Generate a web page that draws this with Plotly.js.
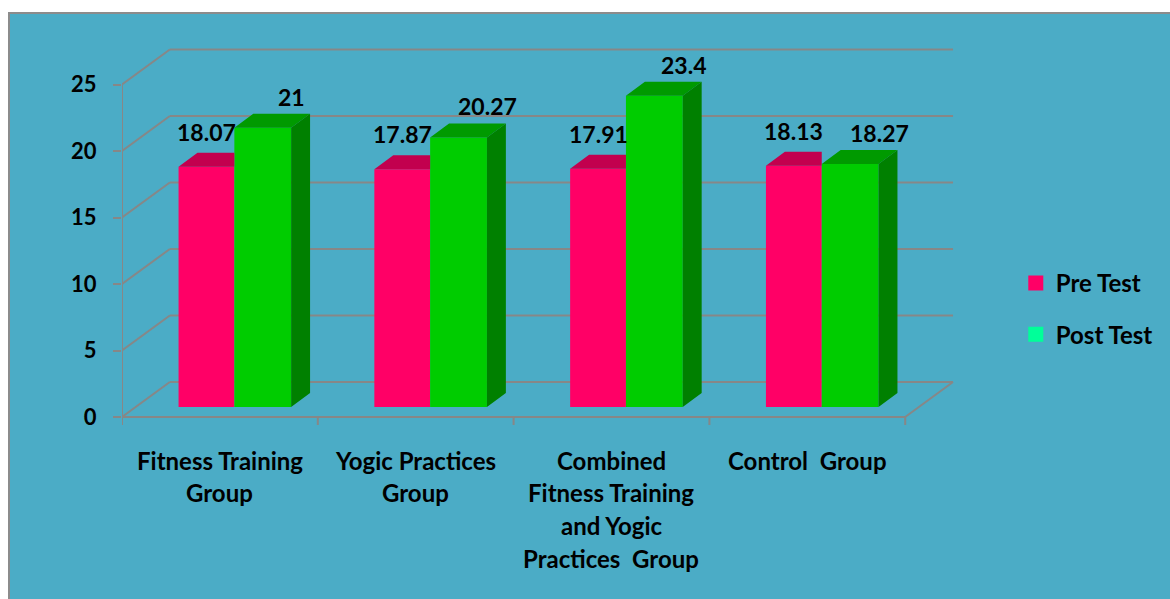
<!DOCTYPE html>
<html>
<head>
<meta charset="utf-8">
<script src="https://cdn.plot.ly/plotly-3.0.1.min.js"></script>
<style>
  html, body { margin: 0; padding: 0; background: #ffffff; width: 1170px; height: 599px; overflow: hidden; }
  #frame { position: absolute; left: 8px; top: 12px; width: 1162px; height: 587px; background: #8c8c8c; }
  #chart { position: absolute; left: 2px; top: 2px; width: 1160px; height: 585px; }
</style>
</head>
<body>
<div id="frame"><div id="chart"></div></div>
<script>
// ---- data ----
const categories = [
  "Fitness Training<br>Group",
  "Yogic Practices<br>Group",
  "Combined<br>Fitness Training<br>and Yogic<br>Practices\u00a0 Group",
  "Control\u00a0 Group"
];
const preTest = [18.07, 17.87, 17.91, 18.13];
const postTest = [21, 20.27, 23.4, 18.27];
const seriesNames = ["Pre Test", "Post Test"];
const yTickValues = [0, 5, 10, 15, 20, 25];

// ---- styling / geometry (pixels converted to axis units) ----
const PXX = 196.5, PXY = 13.3;           // px per x unit, px per y unit
const DXB = 48 / PXX, DYB = 35 / PXY;     // back wall offset
const SX = 14.5 / PXX, SY = 10 / PXY;     // bar placement depth
const BW1 = 56 / PXX, BW2 = 57 / PXX;     // bar widths
const DDX = 19 / PXX, DDY = 14 / PXY;     // bar depth
const GRID = '#878787';
const FAMILY = 'Lato, "Open Sans", sans-serif';
const FONT = { family: FAMILY, size: 22, color: '#000000', weight: 'bold' };
const FONT_VAL = { family: FAMILY, size: 23, color: '#000000', weight: 'bold' };
const FONT_CAT = { family: FAMILY, size: 24, color: '#000000', weight: 'bold' };
const nCat = categories.length;
const yMax = yTickValues[yTickValues.length - 1];

const xc = categories.map((c, i) => i + 0.5 + SX);

// top / side faces
const preTopX = [], preTopY = [], postTopX = [], postTopY = [], postSideX = [], postSideY = [];
categories.forEach((c, i) => {
  const xr = xc[i], xl = xr - BW1, xr2 = xr + BW2;
  const t = SY + preTest[i], T = SY + postTest[i];
  preTopX.push(xl, xr, xr, xl + DDX, xl, null);
  preTopY.push(t, t, t + DDY, t + DDY, t, null);
  postTopX.push(xr, xr2, xr2 + DDX, xr + DDX, xr, null);
  postTopY.push(T, T, T + DDY, T + DDY, T, null);
  postSideX.push(xr2, xr2, xr2 + DDX, xr2 + DDX, xr2, null);
  postSideY.push(SY, T, T + DDY, SY + DDY, SY, null);
});

const traces = [
  { type: 'bar', x: xc, y: preTest, base: SY, offset: -BW1, width: BW1,
    marker: { color: '#FF0066', line: { width: 0 } }, showlegend: false, hoverinfo: 'skip' },
  { type: 'bar', x: xc, y: postTest, base: SY, offset: 0, width: BW2,
    marker: { color: '#00CC00', line: { width: 0 } }, showlegend: false, hoverinfo: 'skip' },
  { type: 'scatter', mode: 'lines', x: preTopX, y: preTopY, fill: 'toself', fillcolor: '#C2004E',
    line: { width: 0, color: 'rgba(0,0,0,0)' }, showlegend: false, hoverinfo: 'skip' },
  { type: 'scatter', mode: 'lines', x: postTopX, y: postTopY, fill: 'toself', fillcolor: '#009A00',
    line: { width: 0, color: 'rgba(0,0,0,0)' }, showlegend: false, hoverinfo: 'skip' },
  { type: 'scatter', mode: 'lines', x: postSideX, y: postSideY, fill: 'toself', fillcolor: '#008000',
    line: { width: 0, color: 'rgba(0,0,0,0)' }, showlegend: false, hoverinfo: 'skip' },
  { type: 'scatter', mode: 'markers', x: [null], y: [null], name: seriesNames[0], legendgroup: 'a',
    marker: { symbol: 'square', size: 15, color: '#FF0066' } },
  { type: 'scatter', mode: 'markers', x: [null], y: [null], name: seriesNames[1], legendgroup: 'b',
    marker: { symbol: 'square', size: 15, color: '#00FF99' } }
];

// walls / floor lines
const shapes = [];
const ln = (x0, y0, x1, y1) => shapes.push({ type: 'line', xref: 'x', yref: 'y', x0, y0, x1, y1,
  layer: 'below', line: { color: GRID, width: 2 } });
yTickValues.forEach(v => {
  ln(DXB, v + DYB, nCat + DXB, v + DYB);
  ln(0, v, DXB, v + DYB);
});
ln(0, 0, 0, yMax);
ln(0, 0, nCat, 0);
ln(nCat, 0, nCat + DXB, DYB);
for (let k = 0; k <= nCat; k++) ln(k, 0, k, -8 / PXY);

// annotations: category labels and value labels
const annotations = [];
categories.forEach((c, i) => {
  c.split('<br>').forEach((line, k) => {
    annotations.push({ x: i + 0.5, y: 0, xref: 'x', yref: 'y', text: line, showarrow: false,
      yanchor: 'middle', xanchor: 'center', yshift: -(43 + 32.7 * k), font: FONT_CAT });
  });
  annotations.push({ x: xc[i] - BW1 / 2, y: SY + preTest[i], xref: 'x', yref: 'y', text: String(preTest[i]),
    showarrow: false, yanchor: 'bottom', xanchor: 'center', yshift: 19, font: FONT_VAL });
  annotations.push({ x: xc[i] + BW2 / 2, y: SY + postTest[i], xref: 'x', yref: 'y', text: String(postTest[i]),
    showarrow: false, yanchor: 'bottom', xanchor: 'center', xshift: 29, yshift: 15, font: FONT_VAL });
});

const layout = {
  width: 1160, height: 585,
  margin: { l: 112, r: 210, t: 30, b: 171 },
  paper_bgcolor: '#4BACC6', plot_bgcolor: '#4BACC6',
  barmode: 'overlay',
  xaxis: { range: [0, 838 / PXX], showgrid: false, zeroline: false, showticklabels: false, ticks: '',
    showline: false, fixedrange: true },
  yaxis: { range: [-11 / PXY, 373 / PXY], tickvals: yTickValues, ticktext: yTickValues.map(String),
    ticks: 'outside', ticklen: 8, tickwidth: 2, tickcolor: GRID, showgrid: false, zeroline: false,
    showline: false, tickfont: FONT, ticklabelstandoff: 12, fixedrange: true },
  showlegend: true,
  legend: { x: 1.0704, xanchor: 'left', y: 0.31, yanchor: 'middle', font: FONT_CAT,
    traceorder: 'grouped', tracegroupgap: 17, bgcolor: 'rgba(0,0,0,0)' },
  shapes, annotations
};

Plotly.newPlot('chart', traces, layout, { displayModeBar: false, staticPlot: true });
</script>
</body>
</html>
